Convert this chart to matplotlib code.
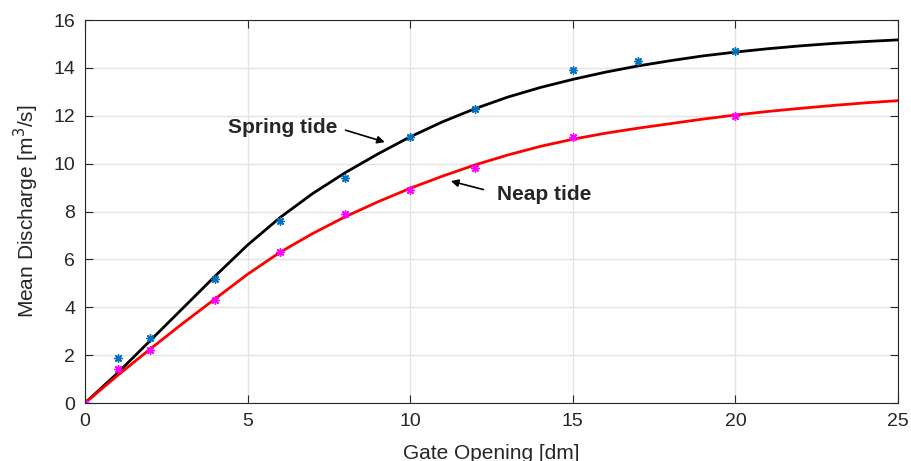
import numpy as np
import matplotlib.pyplot as plt

plt.rcParams['font.family'] = ['Liberation Sans', 'DejaVu Sans']

# measured points
x_spring = [0, 1, 2, 4, 6, 8, 10, 12, 15, 17, 20]
y_spring = [0, 1.9, 2.7, 5.2, 7.6, 9.4, 11.1, 12.3, 13.9, 14.3, 14.7]
x_neap = [0, 1, 2, 4, 6, 8, 10, 12, 15, 20]
y_neap = [0, 1.4, 2.2, 4.3, 6.3, 7.9, 8.9, 9.8, 11.1, 12.0]

# fitted curves
x_fit = list(range(0, 26))
y_fit_spring = [0, 1.25, 2.6, 3.95, 5.3, 6.6, 7.75, 8.75, 9.62, 10.4, 11.12,
                11.75, 12.3, 12.78, 13.18, 13.52, 13.82, 14.08, 14.3, 14.5,
                14.66, 14.8, 14.92, 15.02, 15.1, 15.17]
y_fit_neap = [0, 1.15, 2.25, 3.32, 4.35, 5.38, 6.3, 7.08, 7.78, 8.4, 8.97,
              9.48, 9.95, 10.36, 10.72, 11.02, 11.27, 11.48, 11.67, 11.86,
              12.03, 12.18, 12.31, 12.43, 12.54, 12.63]

fig = plt.figure(figsize=(9.11, 4.61), dpi=100)
ax = fig.add_axes([0.0933, 0.1258, 0.8924, 0.8308])

ax.plot(x_fit, y_fit_spring, color='black', lw=2)
ax.plot(x_fit, y_fit_neap, color='red', lw=2)
ast = (8, 2, 0)
ax.plot(x_spring, y_spring, ls='none', marker=ast, color='#0072BD', ms=6, mew=1)
ax.plot(x_neap, y_neap, ls='none', marker=ast, color='#FF00FF', ms=6, mew=1)

ax.annotate('Spring tide', xy=(9.22, 10.9), xytext=(4.4, 11.5),
            fontsize=15, fontweight='bold', color='#262626',
            va='center', ha='left',
            arrowprops=dict(arrowstyle='-|>', color='black', lw=1.2,
                            relpos=(1, 0.5), shrinkA=4, shrinkB=0,
                            mutation_scale=11))
ax.annotate('Neap tide', xy=(11.25, 9.27), xytext=(12.67, 8.69),
            fontsize=15, fontweight='bold', color='#262626',
            va='center', ha='left',
            arrowprops=dict(arrowstyle='-|>', color='black', lw=1.2,
                            relpos=(0, 0.6), shrinkA=8, shrinkB=0,
                            mutation_scale=11))

ax.set_xlim(0, 25)
ax.set_ylim(0, 16)
ax.set_xticks([0, 5, 10, 15, 20, 25])
ax.set_yticks(range(0, 17, 2))
ax.grid(True, color='#e3e3e3', lw=1)
ax.set_axisbelow(True)
ax.tick_params(direction='in', top=True, right=True, labelsize=14,
               length=6, color='#262626', labelcolor='#262626')
ax.tick_params(axis='x', pad=7)
ax.tick_params(axis='y', pad=7)
for s in ax.spines.values():
    s.set_color('#262626')
    s.set_linewidth(0.8)
ax.set_xlabel('Gate Opening [dm]', fontsize=15, color='#262626', labelpad=10)
ax.set_ylabel('Mean Discharge [m$^3$/s]', fontsize=15, color='#262626', labelpad=9)

fig.savefig('out.png', dpi=100)
